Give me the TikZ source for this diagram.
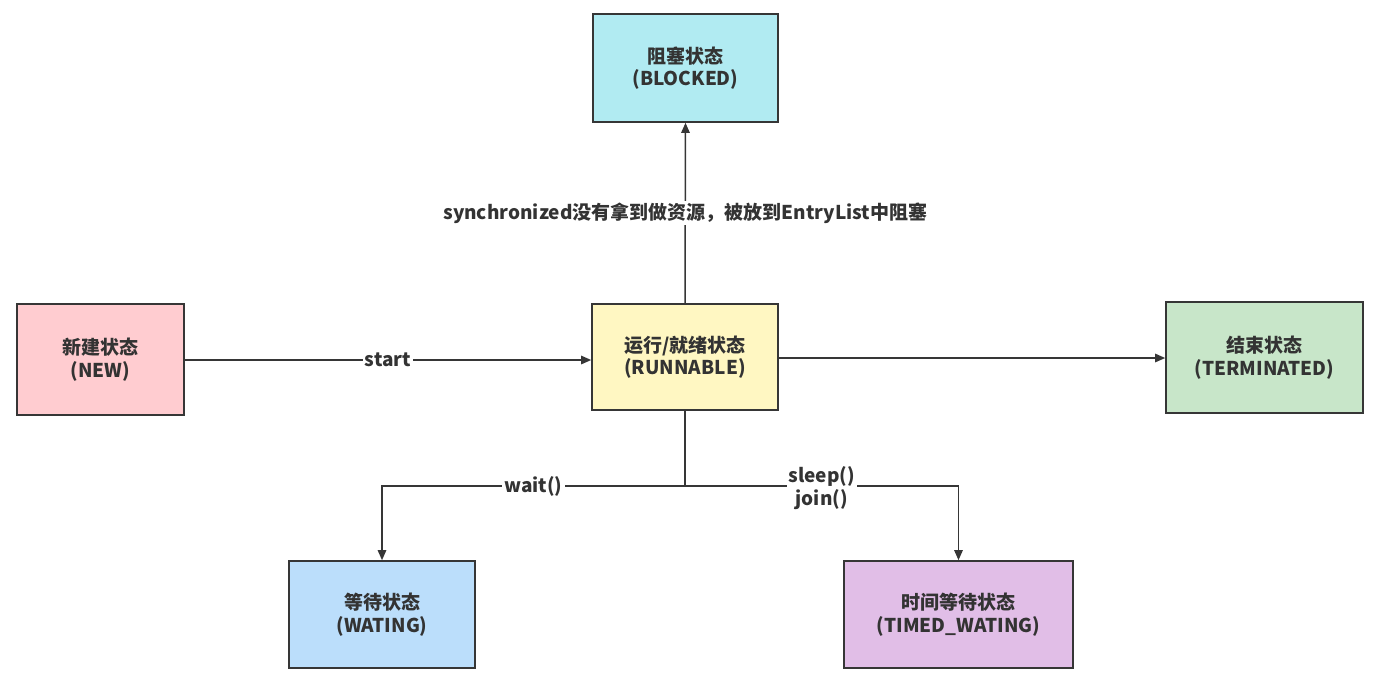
\documentclass[tikz,border=0pt]{standalone}
\usepackage{fontspec}
\setmainfont{Noto Sans CJK SC}
\usetikzlibrary{arrows.meta}
\definecolor{linec}{HTML}{363636}
\definecolor{textc}{HTML}{333333}
\definecolor{cBlocked}{HTML}{B1EBF2}
\definecolor{cNew}{HTML}{FFCCD0}
\definecolor{cRun}{HTML}{FFF7C2}
\definecolor{cTerm}{HTML}{C8E6C9}
\definecolor{cWait}{HTML}{BBDEFB}
\definecolor{cTimed}{HTML}{E1BEE7}
\tikzset{
  state/.style={draw=linec, line width=0.8pt, inner sep=0pt, align=center,
    text=textc, font=\bfseries\fontsize{9.5}{11.2}\selectfont},
  conn/.style={draw=linec, line width=0.75pt},
  arr/.style={conn, -{Triangle[length=5pt,width=4.2pt]}},
  lbl/.style={fill=white, inner sep=1pt, text=textc, align=center,
    font=\bfseries\fontsize{9.5}{11.2}\selectfont},
}
\begin{document}
\begin{tikzpicture}[x=0.5pt,y=-0.5pt]
\useasboundingbox (0,0) rectangle (1386,686);
\node[state, fill=cBlocked, minimum width=92.5pt, minimum height=54pt] (blk) at (685.5,68) {阻塞状态\\(BLOCKED)};
\node[state, fill=cNew, minimum width=83.5pt, minimum height=55.5pt] (new) at (100.5,359.5) {新建状态\\(NEW)};
\node[state, fill=cRun, minimum width=93pt, minimum height=53pt] (run) at (685,357) {运行/就绪状态\\(RUNNABLE)};
\node[state, fill=cTerm, minimum width=98.5pt, minimum height=55.5pt] (term) at (1264.5,357.5) {结束状态\\(TERMINATED)};
\node[state, fill=cWait, minimum width=93pt, minimum height=53.5pt] (wat) at (382,614.5) {等待状态\\(WATING)};
\node[state, fill=cTimed, minimum width=114.5pt, minimum height=53.5pt] (tim) at (958.5,614.5) {时间等待状态\\(TIMED\_WATING)};
\coordinate (j) at (685,486);
\draw[arr] (new.east |- 0,360) -- node[lbl]{start} (run.west |- 0,360);
\draw[arr] (run.north) -- node[lbl]{synchronized没有拿到做资源，被放到EntryList中阻塞} (blk.south);
\draw[arr] (run.east |- 0,358) -- (term.west |- 0,358);
\draw[conn] (run.south) -- (j);
\draw[arr] (j) -| node[lbl, pos=0.25]{wait()} (wat.north);
\draw[arr] (j) -| node[lbl, pos=0.25, yshift=-1pt]{sleep()\\join()} (tim.north);
\end{tikzpicture}
\end{document}
